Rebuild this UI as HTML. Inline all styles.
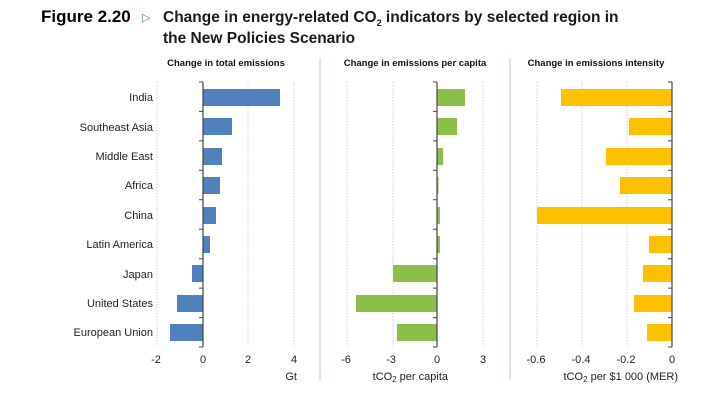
<!DOCTYPE html>
<html><head><meta charset="utf-8"><style>
html,body{margin:0;padding:0;background:#fff;}
svg{display:block;font-family:"Liberation Sans",sans-serif;}
</style></head><body>
<svg width="723" height="407" viewBox="0 0 723 407" xmlns="http://www.w3.org/2000/svg">
<text x="41" y="22" font-size="17" font-weight="bold" fill="#000">Figure 2.20</text>
<text x="142" y="21" font-size="11" fill="#3a7fc1">▷</text>
<text x="163" y="22" font-size="15.5" font-weight="bold" fill="#1a1a1a">Change in energy-related CO<tspan font-size="9" dy="4">2</tspan><tspan dy="-4"> indicators by selected region in</tspan></text>
<text x="163" y="43" font-size="15.5" font-weight="bold" fill="#1a1a1a">the New Policies Scenario</text>
<g font-size="9.5" font-weight="bold" fill="#111" text-anchor="middle">
<text x="226" y="66">Change in total emissions</text>
<text x="415" y="66">Change in emissions per capita</text>
<text x="596" y="66">Change in emissions intensity</text>
</g>
<line x1="320" y1="58" x2="320" y2="380" stroke="#f2d0d0" stroke-width="1.5"/>
<line x1="510" y1="58" x2="510" y2="380" stroke="#f2d0d0" stroke-width="1.5"/>
<g stroke="#cfcfcf" stroke-dasharray="1.5,1.5" stroke-width="1">
<line x1="157" y1="82" x2="157" y2="347"/><line x1="248" y1="82" x2="248" y2="347"/><line x1="294" y1="82" x2="294" y2="347"/>
<line x1="347" y1="82" x2="347" y2="347"/><line x1="393" y1="82" x2="393" y2="347"/><line x1="483" y1="82" x2="483" y2="347"/>
<line x1="537" y1="82" x2="537" y2="347"/><line x1="582" y1="82" x2="582" y2="347"/><line x1="627" y1="82" x2="627" y2="347"/>
</g>
<g font-size="11" fill="#222" text-anchor="end">
<text x="153" y="101">India</text>
<text x="153" y="131">Southeast Asia</text>
<text x="153" y="160">Middle East</text>
<text x="153" y="189">Africa</text>
<text x="153" y="219">China</text>
<text x="153" y="248">Latin America</text>
<text x="153" y="278">Japan</text>
<text x="153" y="307">United States</text>
<text x="153" y="336">European Union</text>
</g>
<g fill="#4f81bd">
<rect x="203" y="89" width="77" height="17"/>
<rect x="203" y="118" width="29" height="17"/>
<rect x="203" y="148" width="19" height="17"/>
<rect x="203" y="177" width="17" height="17"/>
<rect x="203" y="207" width="13" height="17"/>
<rect x="203" y="236" width="7" height="17"/>
<rect x="192" y="265" width="11" height="17"/>
<rect x="177" y="295" width="26" height="17"/>
<rect x="170" y="324" width="33" height="17"/>
</g>
<g fill="#8cbf4a">
<rect x="437" y="89" width="28" height="17"/>
<rect x="437" y="118" width="20" height="17"/>
<rect x="437" y="148" width="6" height="17"/>
<rect x="437" y="177" width="1.5" height="17"/>
<rect x="437" y="207" width="3" height="17"/>
<rect x="437" y="236" width="3" height="17"/>
<rect x="393" y="265" width="44" height="17"/>
<rect x="356" y="295" width="81" height="17"/>
<rect x="397" y="324" width="40" height="17"/>
</g>
<g fill="#ffc000">
<rect x="561" y="89" width="111" height="17"/>
<rect x="629" y="118" width="43" height="17"/>
<rect x="606" y="148" width="66" height="17"/>
<rect x="620" y="177" width="52" height="17"/>
<rect x="537" y="207" width="135" height="17"/>
<rect x="649" y="236" width="23" height="17"/>
<rect x="643" y="265" width="29" height="17"/>
<rect x="634" y="295" width="38" height="17"/>
<rect x="647" y="324" width="25" height="17"/>
</g>
<g stroke="#444" stroke-width="1.2">
<line x1="203" y1="82" x2="203" y2="347"/>
<line x1="437" y1="82" x2="437" y2="347"/>
<line x1="672" y1="82" x2="672" y2="347"/>
</g>
<g stroke="#444" stroke-width="1">
<path d="M199 82h4M199 111.4h4M199 140.9h4M199 170.3h4M199 199.8h4M199 229.2h4M199 258.7h4M199 288.1h4M199 317.6h4M199 347h4"/>
<path d="M433 82h4M433 111.4h4M433 140.9h4M433 170.3h4M433 199.8h4M433 229.2h4M433 258.7h4M433 288.1h4M433 317.6h4M433 347h4"/>
<path d="M668 82h4M668 111.4h4M668 140.9h4M668 170.3h4M668 199.8h4M668 229.2h4M668 258.7h4M668 288.1h4M668 317.6h4M668 347h4"/>
</g>
<g font-size="11" fill="#222" text-anchor="middle">
<text x="156" y="363">-2</text><text x="203" y="363">0</text><text x="248" y="363">2</text><text x="294" y="363">4</text>
<text x="346" y="363">-6</text><text x="391" y="363">-3</text><text x="437" y="363">0</text><text x="483" y="363">3</text>
<text x="536" y="363">-0.6</text><text x="581" y="363">-0.4</text><text x="626" y="363">-0.2</text><text x="672" y="363">0</text>
</g>
<g font-size="11" fill="#222" text-anchor="end">
<text x="297" y="380">Gt</text>
<text x="448" y="380">tCO<tspan font-size="8" dy="2">2</tspan><tspan dy="-2"> per capita</tspan></text>
<text x="678" y="380">tCO<tspan font-size="8" dy="2">2</tspan><tspan dy="-2"> per $1 000 (MER)</tspan></text>
</g>
</svg>
</body></html>
